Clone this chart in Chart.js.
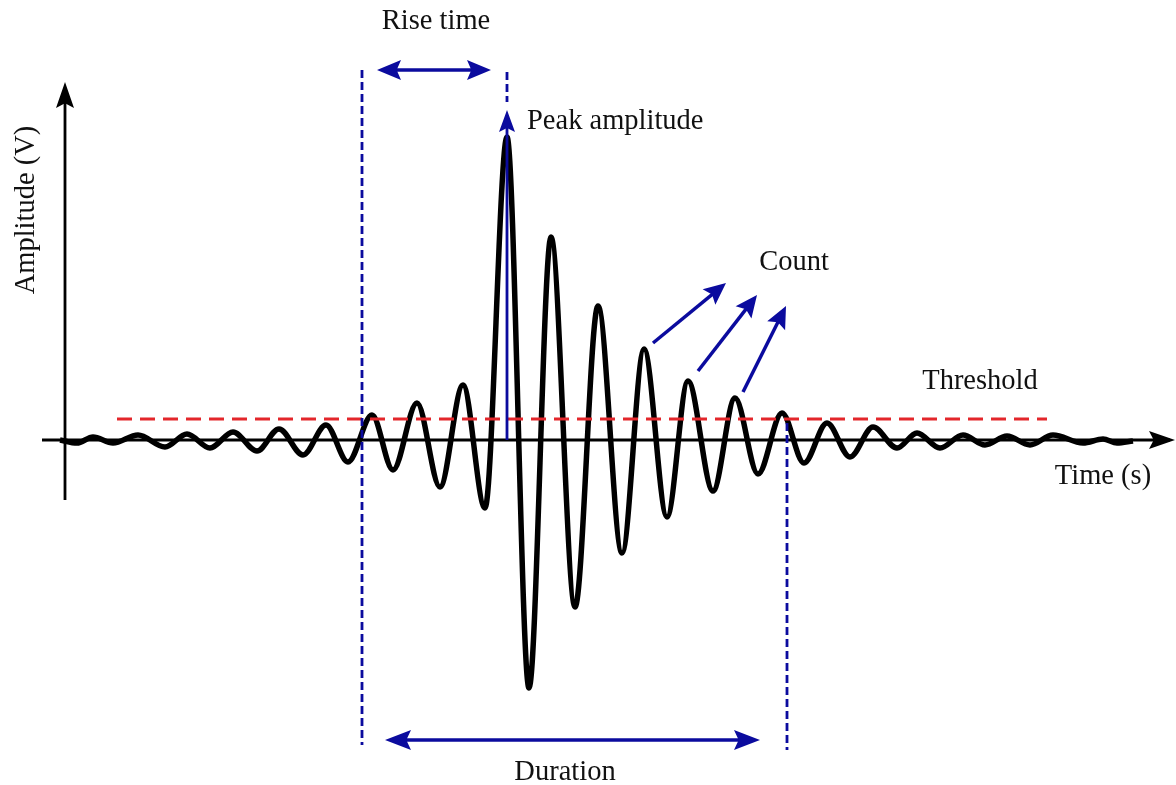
<!DOCTYPE html>
<html lang="en">
<head>
    <meta charset="UTF-8">
    <title>Acoustic emission signal parameters</title>
    <style>
        body {
            margin: 0;
            padding: 0;
            background: #ffffff;
        }

        .chart-container {
            position: relative;
            width: 1176px;
            height: 785px;
        }
    </style>
    <script src="https://cdn.jsdelivr.net/npm/chart.js"></script>
</head>
<body>
    <div class="chart-container">
        <canvas id="myChart"></canvas>
    </div>
    <script>
        // Signal: time (µs) and amplitude (V) at each extremum
        const timeVals = [-0.5, 1.2, 2.8, 4.8, 7.3, 10.0, 12.2, 14.5, 16.8, 19.2,
            21.4, 23.8, 26.1, 28.3, 30.7, 32.8, 35.2, 37.5, 39.8, 42.0,
            44.2, 46.4, 48.6, 51.0, 53.3, 55.7, 57.9, 60.2, 62.3, 64.8,
            67.0, 69.3, 71.7, 73.9, 76.2, 78.5, 80.8, 83.2, 85.2, 87.5,
            89.8, 92.0, 94.2, 96.5, 98.8, 101.8, 103.8, 105.2, 106.8];
        const ampVals = [0.00, -0.03, 0.03, -0.03, 0.05, -0.07, 0.06, -0.08, 0.08, -0.11,
            0.11, -0.15, 0.15, -0.22, 0.25, -0.30, 0.37, -0.47, 0.55, -0.68,
            3.03, -2.48, 2.03, -1.67, 1.34, -1.13, 0.91, -0.77, 0.59, -0.51,
            0.42, -0.34, 0.27, -0.23, 0.17, -0.17, 0.13, -0.08, 0.07, -0.08,
            0.05, -0.05, 0.04, -0.05, 0.05, -0.03, 0.01, -0.03, -0.01];

        // Threshold level and its extent
        const thresholdLevel = 0.21;
        const thresholdSpan = [5.2, 98.2];

        // Hit markers (µs): first threshold crossing, peak, last threshold crossing
        const riseStart = 29.7;
        const peakTime = 44.2;
        const peakAmp = 3.03;
        const durationEnd = 72.2;

        // "Count" arrows: [t start, a start, t tip, a tip]
        const countArrows = [
            [58.8, 0.97, 66.1, 1.57],
            [63.3, 0.69, 69.2, 1.45],
            [67.8, 0.48, 72.1, 1.34]
        ];

        // Text labels: [text, t, a, align, rotated]
        const labels = [
            ['Rise time', 37.1, 4.18, 'center', false],
            ['Peak amplitude', 46.2, 3.18, 'left', false],
            ['Count', 72.9, 1.77, 'center', false],
            ['Threshold', 91.5, 0.58, 'center', false],
            ['Time (s)', 103.8, -0.37, 'center', false],
            ['Duration', 50.0, -3.33, 'center', false],
            ['Amplitude (V)', -3.8, 2.30, 'center', true]
        ];

        const BLUE = '#0b0b9e';
        const RED = '#e3262b';

        function arrowHead(ctx, x1, y1, x2, y2, len, half, color) {
            const ang = Math.atan2(y2 - y1, x2 - x1);
            ctx.save();
            ctx.fillStyle = color;
            ctx.translate(x2, y2);
            ctx.rotate(ang);
            ctx.beginPath();
            ctx.moveTo(0, 0);
            ctx.lineTo(-len, -half);
            ctx.lineTo(-len * 0.82, 0);
            ctx.lineTo(-len, half);
            ctx.closePath();
            ctx.fill();
            ctx.restore();
        }

        function arrow(ctx, x1, y1, x2, y2, opts) {
            const o = Object.assign({ len: 22, half: 10, width: 3.5, color: BLUE, both: false }, opts);
            ctx.save();
            ctx.strokeStyle = o.color;
            ctx.lineWidth = o.width;
            ctx.setLineDash([]);
            const ang = Math.atan2(y2 - y1, x2 - x1);
            const dx = Math.cos(ang) * o.len * 0.7, dy = Math.sin(ang) * o.len * 0.7;
            ctx.beginPath();
            ctx.moveTo(o.both ? x1 + dx : x1, o.both ? y1 + dy : y1);
            ctx.lineTo(x2 - dx, y2 - dy);
            ctx.stroke();
            ctx.restore();
            arrowHead(ctx, x1, y1, x2, y2, o.len, o.half, o.color);
            if (o.both) arrowHead(ctx, x2, y2, x1, y1, o.len, o.half, o.color);
        }

        function dashedV(ctx, x, yTop, yBot) {
            ctx.save();
            ctx.strokeStyle = BLUE;
            ctx.lineWidth = 2.8;
            ctx.setLineDash([8, 4]);
            ctx.beginPath();
            ctx.moveTo(x, yTop);
            ctx.lineTo(x, yBot);
            ctx.stroke();
            ctx.restore();
        }

        // Axes with arrows, drawn under the signal; annotations on top
        const axesPlugin = {
            id: 'axes',
            beforeDatasetsDraw(chart) {
                const { ctx, scales: { x, y } } = chart;
                const y0 = y.getPixelForValue(0);
                const x0 = x.getPixelForValue(0);
                ctx.save();
                ctx.strokeStyle = '#000';
                ctx.lineWidth = 2.8;
                ctx.beginPath();
                ctx.moveTo(x.getPixelForValue(-2.3), y0);
                ctx.lineTo(x.getPixelForValue(110.5), y0);
                ctx.moveTo(x0, y.getPixelForValue(-0.60));
                ctx.lineTo(x0, y.getPixelForValue(3.40));
                ctx.stroke();
                ctx.restore();
                arrowHead(ctx, 0, y0, x.getPixelForValue(111.0), y0, 26, 9, '#000');
                arrowHead(ctx, x0, 500, x0, y.getPixelForValue(3.58), 26, 9, '#000');
            },
            afterDatasetsDraw(chart) {
                const { ctx, scales: { x, y } } = chart;
                const px = v => x.getPixelForValue(v);
                const py = v => y.getPixelForValue(v);

                // rise time / duration markers
                dashedV(ctx, px(riseStart), py(3.70), py(-3.05));
                dashedV(ctx, px(peakTime), py(3.68), py(3.38));
                dashedV(ctx, px(durationEnd), py(0.17), py(-3.10));
                arrow(ctx, px(31.2), py(3.70), px(42.6), py(3.70), { both: true, len: 24, half: 10 });
                arrow(ctx, px(32.0), py(-3.00), px(69.5), py(-3.00), { both: true, len: 26, half: 10 });

                // peak amplitude arrow
                arrow(ctx, px(peakTime), py(0), px(peakTime), py(peakAmp + 0.27), { len: 22, half: 8, width: 2.8 });

                countArrows.forEach(a => arrow(ctx, px(a[0]), py(a[1]), px(a[2]), py(a[3]), { len: 22, half: 10 }));

                // text
                ctx.save();
                ctx.fillStyle = '#111';
                ctx.font = '28.5px "Liberation Serif", "Times New Roman", serif';
                ctx.textBaseline = 'middle';
                labels.forEach(l => {
                    ctx.save();
                    ctx.translate(px(l[1]), py(l[2]));
                    if (l[4]) ctx.rotate(-Math.PI / 2);
                    ctx.textAlign = l[3];
                    ctx.fillText(l[0], 0, 0);
                    ctx.restore();
                });
                ctx.restore();
            }
        };

        const ctx = document.getElementById('myChart').getContext('2d');
        const myChart = new Chart(ctx, {
            type: 'line',
            data: {
                datasets: [{
                    label: 'Signal',
                    data: timeVals.map((t, i) => ({ x: t, y: ampVals[i] })),
                    borderColor: '#000',
                    borderWidth: 5.5,
                    pointRadius: 0,
                    cubicInterpolationMode: 'monotone',
                    order: 2
                }, {
                    label: 'Threshold',
                    data: thresholdSpan.map(t => ({ x: t, y: thresholdLevel })),
                    borderColor: RED,
                    borderWidth: 3,
                    borderDash: [15, 8],
                    pointRadius: 0,
                    order: 1
                }]
            },
            options: {
                responsive: true,
                maintainAspectRatio: false,
                animation: false,
                layout: { padding: 0 },
                plugins: {
                    legend: { display: false },
                    tooltip: { enabled: false }
                },
                scales: {
                    x: { type: 'linear', min: -6.5, max: 111.1, display: false },
                    y: { min: -3.45, max: 4.40, display: false }
                }
            },
            plugins: [axesPlugin]
        });
    </script>
</body>
</html>
